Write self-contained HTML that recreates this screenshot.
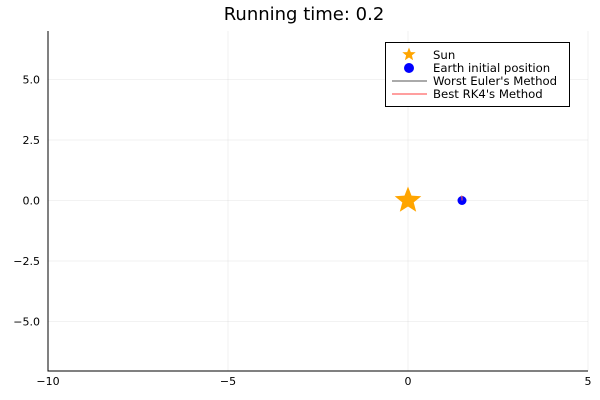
<!DOCTYPE html>
<html><head><meta charset="utf-8"><style>
body{margin:0;background:#fff}
svg{display:block;font-family:"DejaVu Sans","Liberation Sans",sans-serif}
</style></head><body>
<svg id="chart" width="600" height="400"></svg>
<script>
const xTicks=[-10,-5,0,5];
const yTicks=[-5,-2.5,0,2.5,5];
const yTickLabels=["\u22125.0","\u22122.5","0.0","2.5","5.0"];
const xTickLabels=["\u221210","\u22125","0","5"];
const sunPos=[0,0];
const earthPos=[1.5,0];
const eulerX=[1.5,1.5,1.49];
const eulerY=[0,0.1,0.2];
const rk4X=[1.5,1.5,1.49];
const rk4Y=[0,0.1,0.2];
const L=48,R=588,T=31,B=371;
const xs=v=>L+(v+10)/15*(R-L);
const ys=v=>200.5-v*24.2;
const svg=document.getElementById('chart');
const NS='http://www.w3.org/2000/svg';
function mk(tag,attrs,parent){const e=document.createElementNS(NS,tag);for(const k in attrs)e.setAttribute(k,attrs[k]);(parent||svg).appendChild(e);return e;}
let t=mk('text',{x:304,y:20,'text-anchor':'middle','font-size':18,fill:'#000'});t.textContent='Running time: 0.2';


xTicks.forEach((v,i)=>{
  const g=mk('line',{x1:xs(v),x2:xs(v),y1:T,y2:B,stroke:'#000','stroke-opacity':0.1,'stroke-width':0.5});
  
  
  const tx=mk('text',{x:xs(v),y:B+14,'text-anchor':'middle','font-size':11});tx.textContent=xTickLabels[i];
  
  
});
yTicks.forEach((v,i)=>{
  const g=mk('line',{x1:L,x2:R,y1:ys(v),y2:ys(v),stroke:'#000','stroke-opacity':0.1,'stroke-width':0.5});
  
  
  const tx=mk('text',{x:L-8,y:ys(v)+4,'text-anchor':'end','font-size':11});tx.textContent=yTickLabels[i];
  
  
});
let ax=mk('path',{d:`M${L},${T}V${B}H${R}`,stroke:'#000',fill:'none','stroke-width':1});


function star(cx,cy,ro,ri){let p=[];for(let i=0;i<10;i++){const a=-Math.PI/2+i*Math.PI/5,r=i%2?ri:ro;p.push((cx+r*Math.cos(a)).toFixed(1)+','+(cy+r*Math.sin(a)).toFixed(1));}return p.join(' ');}
let s=mk('polygon',{points:star(xs(sunPos[0]),ys(sunPos[1]),14,6),fill:'#ffa500'});


let e=mk('circle',{cx:xs(earthPos[0]),cy:ys(earthPos[1]),r:4.5,fill:'#0000ff'});


let pe=mk('polyline',{points:eulerX.map((v,i)=>xs(v)+','+ys(eulerY[i])).join(' '),fill:'none',stroke:'#555','stroke-width':1});


let pr=mk('polyline',{points:rk4X.map((v,i)=>xs(v)+','+ys(rk4Y[i])).join(' '),fill:'none',stroke:'#ff5555','stroke-width':1});


const lg=mk('g',{});


mk('rect',{x:385.5,y:42.5,width:184,height:64,fill:'#fff',stroke:'#000','stroke-width':1},lg);
const labels=["Sun","Earth initial position","Worst Euler's Method","Best RK4's Method"];
labels.forEach((lab,i)=>{
  const y=55+i*13;
  if(i==0)mk('polygon',{points:star(409,y-0.5,7,3),fill:'#ffa500'},lg);
  if(i==1)mk('circle',{cx:409,cy:y,r:5,fill:'#0000ff'},lg);
  if(i==2)mk('line',{x1:392,x2:427,y1:y,y2:y,stroke:'#555','stroke-width':1},lg);
  if(i==3)mk('line',{x1:392,x2:427,y1:y,y2:y,stroke:'#ff6666','stroke-width':1.3},lg);
  const tx=mk('text',{x:433,y:y+4,'font-size':11.7},lg);tx.textContent=lab;
  
  
});
</script>
</body></html>
